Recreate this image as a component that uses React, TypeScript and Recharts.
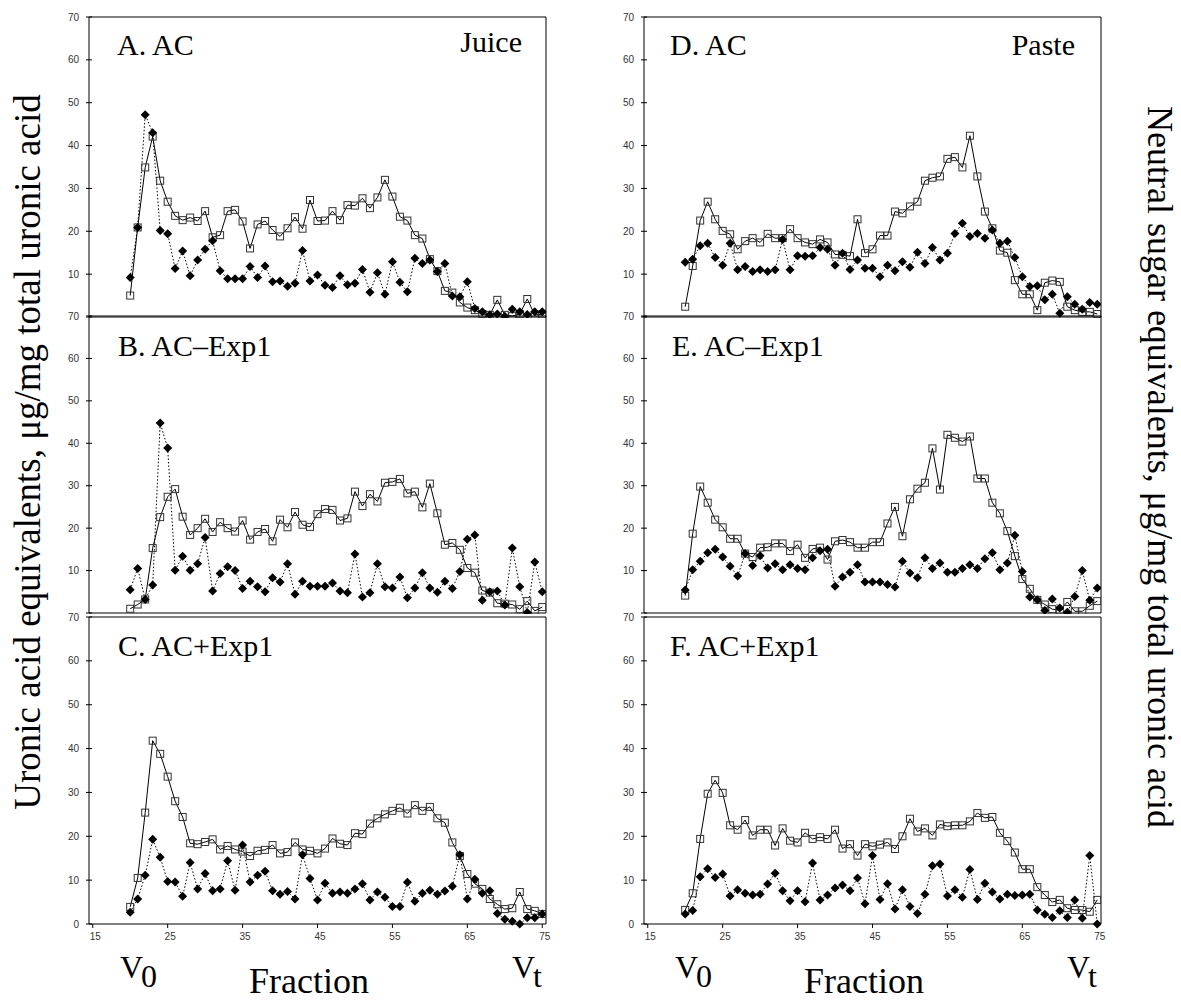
import { Line, LineChart, ReferenceLine, XAxis, YAxis } from 'recharts';

// fraction numbers collected from the column
const fractions = [
  20, 21, 22, 23, 24, 25, 26, 27, 28, 29, 30, 31, 32, 33, 34, 35, 36, 37, 38, 39,
  40, 41, 42, 43, 44, 45, 46, 47, 48, 49, 50, 51, 52, 53, 54, 55, 56, 57, 58, 59,
  60, 61, 62, 63, 64, 65, 66, 67, 68, 69, 70, 71, 72, 73, 74, 75,
];

const xTicks = [15, 25, 35, 45, 55, 65, 75];
const yTicks = [0, 10, 20, 30, 40, 50, 60, 70];

// ua = uronic acid (open squares), ns = neutral sugar (filled diamonds)
const juiceAC_ua = [
  5.0, 20.9, 34.9, 42.1, 31.8, 26.9, 23.6, 22.6, 23.2, 22.4,
  24.7, 18.6, 19.1, 24.7, 25.0, 22.3, 16.0, 21.6, 22.4, 20.3,
  18.8, 20.7, 23.3, 20.6, 27.3, 22.4, 22.5, 24.7, 22.6, 26.1,
  26.0, 27.7, 25.4, 27.9, 32.0, 28.1, 23.4, 22.5, 19.1, 18.3,
  13.5, 10.7, 6.1, 5.7, 3.4, 2.2, 1.6, 0.7, 0.5, 4.0,
  0.5, 0.2, 0.7, 4.2, 0.5, 0.6,
];
const juiceAC_ns = [
  9.2, 20.9, 47.2, 43.0, 20.2, 19.4, 11.3, 15.4, 9.6, 13.3,
  15.8, 17.8, 10.8, 8.9, 8.9, 8.9, 11.8, 9.2, 11.9, 8.2,
  8.4, 7.2, 7.9, 15.5, 8.4, 9.8, 7.4, 6.9, 9.6, 7.5,
  7.9, 11.1, 5.8, 10.3, 5.3, 12.9, 8.1, 5.9, 13.7, 12.5,
  13.3, 10.6, 12.5, 4.9, 4.7, 8.2, 2.0, 1.2, 0.5, 0.7,
  0.2, 1.8, 1.2, 0.6, 1.2, 1.2,
];

const juiceMinus_ua = [
  1.0, 2.0, 3.2, 15.3, 22.6, 27.4, 29.2, 22.7, 18.4, 20.0,
  22.2, 19.1, 21.4, 20.0, 19.2, 21.8, 17.3, 19.1, 19.8, 16.9,
  22.0, 20.2, 23.8, 20.8, 20.3, 23.3, 24.5, 24.3, 21.8, 22.3,
  28.6, 25.2, 28.0, 26.3, 30.7, 30.9, 31.6, 28.2, 28.6, 24.9,
  30.5, 23.5, 16.1, 16.5, 14.9, 10.6, 9.5, 5.3, 4.8, 2.3,
  2.2, 2.0, 0.9, 2.8, 0.5, 1.4,
];
const juiceMinus_ns = [
  5.5, 10.5, 3.2, 6.6, 44.8, 38.9, 10.1, 13.4, 10.1, 11.6,
  17.8, 5.2, 9.3, 10.9, 10.0, 5.8, 7.5, 6.2, 5.0, 8.3,
  7.3, 11.6, 4.4, 7.5, 6.3, 6.3, 6.3, 7.1, 5.2, 4.8,
  13.9, 3.8, 4.8, 11.6, 6.2, 5.9, 8.5, 3.6, 5.9, 9.5,
  5.9, 4.9, 7.5, 5.8, 9.8, 17.4, 18.4, 3.0, 5.0, 5.2,
  1.9, 15.3, 6.2, 0.1, 12.0, 5.0,
];

const juicePlus_ua = [
  3.9, 10.5, 25.4, 41.8, 38.8, 33.6, 28.0, 24.4, 18.4, 18.2,
  18.7, 19.3, 17.0, 17.8, 17.0, 16.5, 15.5, 16.7, 16.9, 18.0,
  16.1, 16.4, 18.6, 17.0, 16.7, 16.1, 17.2, 19.5, 18.3, 18.0,
  20.7, 20.5, 22.9, 24.1, 25.0, 25.8, 26.5, 25.2, 27.1, 25.8,
  26.7, 24.1, 23.1, 18.6, 15.5, 11.4, 9.2, 8.0, 5.7, 4.5,
  3.4, 3.6, 7.3, 3.4, 3.0, 2.3,
];
const juicePlus_ns = [
  2.7, 5.7, 11.1, 19.3, 15.2, 9.7, 9.6, 6.3, 14.0, 8.0,
  11.5, 7.6, 8.0, 14.4, 7.7, 18.0, 9.6, 11.1, 12.0, 7.6,
  6.8, 7.4, 5.7, 15.8, 10.4, 5.5, 9.3, 7.0, 7.3, 7.0,
  8.0, 9.2, 5.5, 7.3, 6.1, 4.0, 4.0, 9.5, 5.2, 7.0,
  7.7, 6.8, 7.5, 8.6, 15.8, 5.7, 10.2, 7.0, 7.6, 2.4,
  1.1, 0.6, 0.0, 1.4, 1.4, 2.3,
];

const pasteAC_ua = [
  2.4, 11.9, 22.5, 26.9, 22.8, 20.1, 19.3, 15.8, 17.7, 18.4,
  17.4, 19.4, 18.4, 18.4, 20.5, 18.4, 17.4, 17.0, 18.1, 17.4,
  14.6, 14.5, 14.2, 22.8, 14.9, 15.8, 19.0, 19.0, 24.6, 24.2,
  25.8, 26.9, 31.8, 32.5, 32.8, 36.9, 37.3, 34.9, 42.3, 32.8,
  24.6, 20.7, 15.5, 15.0, 8.6, 5.3, 5.3, 1.6, 8.0, 8.5,
  8.2, 2.4, 1.6, 1.2, 1.2, 0.7,
];
const pasteAC_ns = [
  12.8, 13.5, 16.6, 17.2, 13.9, 12.1, 17.2, 11.0, 11.8, 10.6,
  11.0, 10.6, 11.0, 18.1, 11.0, 14.3, 14.2, 14.3, 16.2, 15.8,
  12.1, 14.9, 11.1, 13.3, 11.4, 11.4, 9.4, 12.1, 10.8, 12.9,
  11.6, 15.1, 12.5, 16.2, 13.3, 14.9, 19.5, 21.9, 18.8, 19.5,
  18.4, 20.3, 17.2, 17.7, 13.9, 9.4, 7.1, 7.3, 4.0, 5.3,
  0.9, 4.7, 3.0, 1.8, 3.4, 3.0,
];

const pasteMinus_ua = [
  4.1, 18.7, 29.8, 26.0, 22.0, 20.2, 17.5, 17.5, 14.0, 13.2,
  15.4, 15.5, 16.4, 16.4, 14.6, 16.1, 13.0, 15.1, 15.4, 12.6,
  16.9, 17.2, 16.7, 15.4, 15.4, 16.7, 16.7, 21.1, 25.0, 18.1,
  26.8, 29.3, 30.7, 38.8, 29.1, 42.0, 41.3, 40.4, 41.6, 31.7,
  31.7, 26.0, 23.5, 19.3, 13.4, 8.0, 5.7, 3.1, 2.0, 0.9,
  0.6, 2.6, 0.4, 0.4, 1.7, 2.8,
];
const pasteMinus_ns = [
  5.4, 10.2, 12.2, 14.2, 15.0, 13.2, 11.0, 8.7, 14.0, 11.2,
  13.5, 10.6, 11.6, 10.2, 11.4, 10.5, 10.2, 13.0, 14.7, 15.0,
  6.3, 8.5, 9.6, 11.4, 7.3, 7.3, 7.3, 6.7, 6.1, 12.2,
  9.4, 8.3, 13.0, 10.5, 11.8, 9.6, 9.6, 10.5, 11.4, 10.5,
  12.8, 14.2, 10.2, 11.8, 18.3, 9.8, 3.8, 3.1, 0.6, 3.3,
  1.2, 0.2, 3.9, 10.0, 3.0, 5.9,
];

const pastePlus_ua = [
  3.2, 7.0, 19.4, 29.7, 32.8, 29.9, 22.5, 21.5, 23.7, 20.2,
  21.5, 21.5, 17.9, 21.8, 19.0, 18.6, 20.8, 19.4, 19.8, 19.4,
  21.5, 17.2, 18.2, 15.6, 18.2, 17.7, 18.1, 18.6, 17.1, 20.0,
  24.0, 21.1, 21.8, 20.2, 22.7, 22.3, 22.5, 22.5, 23.4, 25.3,
  24.2, 24.4, 20.8, 18.9, 16.3, 12.5, 12.5, 8.4, 6.6, 5.0,
  5.5, 3.6, 3.2, 3.2, 2.8, 5.5,
];
const pastePlus_ns = [
  2.3, 3.1, 10.8, 12.6, 10.6, 11.4, 6.4, 7.8, 7.0, 6.6,
  6.8, 9.1, 11.6, 7.6, 5.3, 7.6, 5.1, 13.9, 5.5, 6.6,
  8.2, 8.9, 7.6, 10.5, 4.6, 15.6, 5.6, 9.2, 3.4, 7.8,
  4.0, 2.4, 6.8, 13.3, 13.7, 6.4, 7.8, 6.1, 12.4, 5.6,
  9.3, 7.3, 5.7, 6.8, 6.5, 6.6, 6.8, 3.2, 2.2, 1.5,
  3.0, 1.5, 5.5, 1.3, 15.6, 0.0,
];

const SERIF = '"Liberation Serif", "Times New Roman", serif';
const SANS = '"Liberation Sans", Arial, sans-serif';
const AXIS_W = 60;
const PLOT_W = 457;

const panels = [
  { key: 'A', ua: juiceAC_ua, ns: juiceAC_ns, left: 89, top: 17, h: 300, bottom: false },
  { key: 'B', ua: juiceMinus_ua, ns: juiceMinus_ns, left: 89, top: 316, h: 297, bottom: false },
  { key: 'C', ua: juicePlus_ua, ns: juicePlus_ns, left: 89, top: 617, h: 307, bottom: true },
  { key: 'D', ua: pasteAC_ua, ns: pasteAC_ns, left: 644, top: 17, h: 300, bottom: false },
  { key: 'E', ua: pasteMinus_ua, ns: pasteMinus_ns, left: 644, top: 316, h: 297, bottom: false },
  { key: 'F', ua: pastePlus_ua, ns: pastePlus_ns, left: 644, top: 617, h: 307, bottom: true },
];

const titles = [
  { text: 'A. AC', x: 117, y: 55 },
  { text: 'B. AC\u2013Exp1', x: 118, y: 356 },
  { text: 'C. AC+Exp1', x: 118, y: 656 },
  { text: 'D. AC', x: 670, y: 55 },
  { text: 'E. AC\u2013Exp1', x: 672, y: 356 },
  { text: 'F. AC+Exp1', x: 670, y: 656 },
];

function SquareDot(props: any) {
  const { cx, cy, index } = props;
  if (cx == null || cy == null) return <g key={`s${index}`} />;
  return (
    <rect key={`s${index}`} x={cx - 3.5} y={cy - 3.5} width={7} height={7}
      fill="none" stroke="#333" strokeWidth={1} />
  );
}

function DiamondDot(props: any) {
  const { cx, cy, index } = props;
  if (cx == null || cy == null) return <g key={`d${index}`} />;
  const r = 4.5;
  return (
    <path key={`d${index}`} d={`M${cx},${cy - r}L${cx + r},${cy}L${cx},${cy + r}L${cx - r},${cy}Z`}
      fill="#000" />
  );
}

function LeftTick(props: any) {
  const { x, y, payload, hideZero } = props;
  return (
    <g>
      <line x1={x - 3} x2={x + 3} y1={y} y2={y} stroke="#000" />
      {!(hideZero && payload.value === 0) && (
        <text x={x - 10} y={y} dy={3.5} textAnchor="end" fontSize={10} fill="#333" fontFamily={SANS}>
          {payload.value}
        </text>
      )}
    </g>
  );
}

function RightTick(props: any) {
  const { x, y, payload, hideZero } = props;
  return (
    <g>
      <line x1={x - 3} x2={x + 3} y1={y} y2={y} stroke="#000" />
      {!(hideZero && payload.value === 0) && (
        <text x={x + 7} y={y} dy={3.5} textAnchor="start" fontSize={10} fill="#333" fontFamily={SANS}>
          {payload.value}
        </text>
      )}
    </g>
  );
}

function BottomTick(props: any) {
  const { x, y, payload } = props;
  return (
    <text x={x + 2.5} y={y} dy={8} textAnchor="middle" fontSize={10} fill="#333" fontFamily={SANS}>
      {payload.value}
    </text>
  );
}

function Panel({ p }: { p: (typeof panels)[number] }) {
  const rows = fractions.map((f, i) => ({ f, ua: p.ua[i], ns: p.ns[i] }));
  const xH = p.bottom ? 30 : 1;
  const hideZero = !p.bottom;
  return (
    <div style={{ position: 'absolute', left: p.left - AXIS_W, top: p.top - 10 }}>
      <LineChart
        width={AXIS_W * 2 + PLOT_W}
        height={10 + p.h + xH}
        data={rows}
        margin={{ top: 10, right: 0, bottom: 0, left: 0 }}
      >
        <XAxis
          dataKey="f"
          type="number"
          domain={[14.5, 75.5]}
          ticks={xTicks}
          allowDataOverflow
          height={xH}
          axisLine={{ stroke: '#000' }}
          tickLine={p.bottom ? { stroke: '#000' } : false}
          tickSize={p.bottom ? 4 : 0}
          tickMargin={4}
          tick={p.bottom ? <BottomTick /> : false}
          interval={0}
        />
        <YAxis
          yAxisId="l"
          domain={[0, 70]}
          ticks={yTicks}
          width={AXIS_W}
          interval={0}
          axisLine={{ stroke: '#000' }}
          tickLine={false}
          tickSize={0}
          tickMargin={0}
          tick={<LeftTick hideZero={hideZero} />}
        />
        <YAxis
          yAxisId="r"
          orientation="right"
          domain={[0, 70]}
          ticks={yTicks}
          width={AXIS_W}
          interval={0}
          axisLine={{ stroke: '#000' }}
          tickLine={false}
          tickSize={0}
          tickMargin={0}
          tick={<RightTick hideZero={hideZero} />}
        />
        <ReferenceLine yAxisId="l" y={70} stroke="#000" />
        <Line
          yAxisId="l"
          dataKey="ua"
          stroke="#000"
          strokeWidth={1}
          dot={SquareDot}
          isAnimationActive={false}
        />
        <Line
          yAxisId="l"
          dataKey="ns"
          stroke="#000"
          strokeWidth={1}
          strokeDasharray="1.5 2"
          dot={DiamondDot}
          isAnimationActive={false}
        />
      </LineChart>
    </div>
  );
}

export default function App() {
  return (
    <div style={{ position: 'absolute', left: 0, top: 0, width: 1181, height: 1001, background: '#fff' }}>
      {panels.map((p) => (
        <Panel key={p.key} p={p} />
      ))}
      <svg width={1181} height={1001} style={{ position: 'absolute', left: 0, top: 0, pointerEvents: 'none' }}>
        <g fontFamily={SERIF} fill="#000">
          {titles.map((t) => (
            <text key={t.text} x={t.x} y={t.y} fontSize={30}>{t.text}</text>
          ))}
          <text x={522} y={52} fontSize={30} textAnchor="end">Juice</text>
          <text x={1075} y={55} fontSize={30} textAnchor="end">Paste</text>

          <text transform="translate(40,452) rotate(-90)" fontSize={37} textAnchor="middle">
            Uronic acid equivalents, μg/mg total uronic acid
          </text>
          <text transform="translate(1148,467) rotate(90)" fontSize={36} textAnchor="middle">
            Neutral sugar equivalents, μg/mg total uronic acid
          </text>

          {[0, 555].map((dx) => (
            <g key={dx}>
              <text x={120 + dx} y={978} fontSize={32}>V</text>
              <text x={141 + dx} y={987} fontSize={32}>0</text>
              <text x={512 + dx} y={978} fontSize={32}>V</text>
              <text x={533 + dx} y={987} fontSize={32}>t</text>
              <text x={249 + dx} y={993} fontSize={36}>Fraction</text>
            </g>
          ))}
        </g>
      </svg>
    </div>
  );
}
